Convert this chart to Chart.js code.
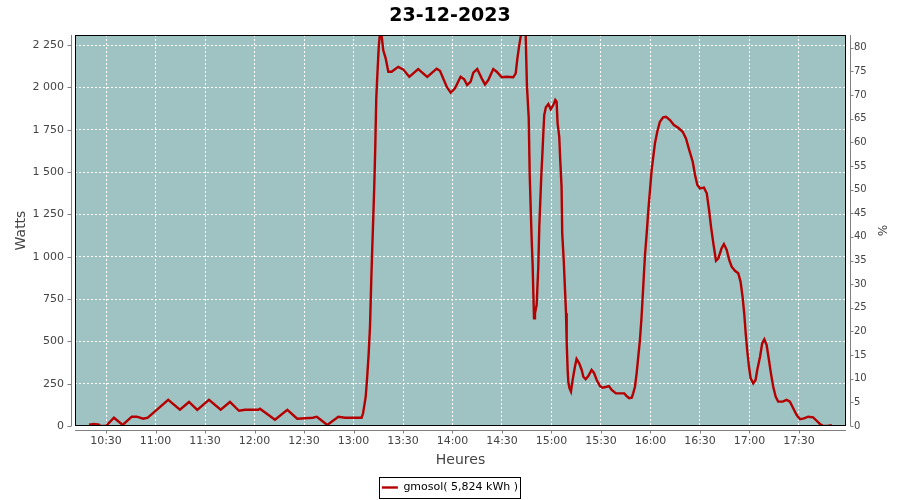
<!DOCTYPE html>
<html>
<head>
<meta charset="utf-8">
<script src="https://cdn.jsdelivr.net/npm/chart.js@4"></script>
<style>
  html, body { margin: 0; padding: 0; background: #fff; }
  #wrap { width: 900px; height: 500px; }
</style>
</head>
<body>
<div id="wrap"><canvas id="chart" width="900" height="500"></canvas></div>
<script>
/* 23-12-2023 solar production (gmosol) */

// time of day, in minutes since midnight
const times = [
  619.7, 622.7, 625.7, 626.4, 630.0, 634.8, 640.1, 645.6, 648.6, 652.6, 655.3, 667.7,
  674.8, 680.3, 685.3, 692.4, 699.5, 705.1, 710.6, 714.2, 722.3, 723.3, 732.4, 739.9,
  745.9, 755.4, 757.7, 759.7, 764.1, 770.8, 774.8, 784.9, 785.8, 787.4, 788.3, 789.2,
  790.0, 790.8, 791.4, 792.0, 792.6, 793.2, 793.8, 794.4, 795.3, 796.2, 796.9, 798.0,
  799.5, 801.1, 803.1, 807.1, 810.1, 813.8, 819.2, 824.7, 830.4, 832.4, 836.5, 838.9,
  841.5, 844.9, 847.1, 848.9, 851.0, 852.6, 855.0, 857.7, 859.7, 861.7, 864.7, 866.8,
  869.8, 872.8, 876.8, 878.3, 879.2, 880.3, 881.3, 882.7, 884.3, 885.1, 886.2, 886.8,
  887.4, 888.0, 888.6, 889.0, 889.4, 890.0, 891.0, 892.0, 892.6, 893.2, 893.8, 894.4,
  895.0, 895.6, 896.6, 898.1, 899.5, 901.1, 902.3, 903.1, 903.7, 904.7, 905.3, 906.1,
  906.5, 907.4, 908.2, 908.8, 909.2, 909.8, 910.2, 910.9, 911.8, 912.8, 914.2, 915.2,
  916.8, 918.3, 919.3, 920.7, 922.3, 924.3, 925.7, 927.4, 929.4, 931.0, 933.4, 934.8,
  936.5, 939.1, 944.1, 945.5, 947.1, 948.6, 949.5, 950.6, 951.6, 952.6, 953.6, 954.6,
  955.6, 956.6, 957.7, 958.7, 959.7, 960.7, 961.7, 962.7, 964.1, 965.7, 967.7, 969.4,
  971.8, 974.2, 976.8, 979.5, 981.5, 983.5, 985.6, 987.0, 988.4, 990.0, 992.4, 994.1,
  995.5, 996.7, 998.1, 999.7, 1001.1, 1003.1, 1004.5, 1006.2, 1007.7, 1009.2, 1011.2, 1013.2,
  1014.6, 1015.8, 1016.8, 1017.7, 1018.6, 1019.7, 1020.7, 1022.3, 1023.7, 1024.7, 1026.4, 1027.7,
  1029.0, 1030.4, 1031.8, 1033.0, 1034.4, 1035.9, 1037.4, 1040.1, 1042.5, 1044.5, 1046.5, 1048.6,
  1050.6, 1053.0, 1055.6, 1058.6, 1060.7, 1062.7, 1064.7, 1067.6, 1068.8, 1070.0
];

const watts = [
  8, 12, 8, 0, 0, 49, 6, 55, 55, 43, 49, 154,
  96, 142, 95, 155, 96, 142, 90, 96, 96, 102, 37, 95,
  43, 49, 55, 40, 6, 55, 49, 49, 75, 173, 291, 429,
  587, 872, 1059, 1236, 1424, 1650, 1936, 2063, 2240, 2340, 2320, 2221,
  2172, 2093, 2093, 2122, 2107, 2063, 2109, 2063, 2111, 2099, 2004, 1969,
  1995, 2063, 2048, 2014, 2034, 2087, 2109, 2054, 2018, 2044, 2109, 2093,
  2060, 2063, 2060, 2083, 2162, 2240, 2300, 2390, 2330, 2014, 1818, 1483,
  1286, 1099, 941, 784, 636, 666, 715, 941, 1177, 1325, 1473, 1591,
  1719, 1837, 1883, 1902, 1871, 1896, 1926, 1916, 1788, 1709, 1571, 1414,
  1138, 981, 803, 666, 498, 331, 260, 223, 203, 272, 350, 396,
  370, 331, 291, 276, 295, 331, 315, 272, 236, 226, 232, 236,
  213, 193, 193, 177, 164, 167, 193, 232, 311, 410, 508, 646,
  823, 1000, 1138, 1276, 1394, 1512, 1591, 1670, 1738, 1798, 1824, 1827,
  1808, 1778, 1762, 1738, 1699, 1630, 1561, 1483, 1424, 1404, 1408, 1375,
  1276, 1177, 1079, 977, 991, 1050, 1075, 1040, 981, 941, 917, 902,
  852, 764, 666, 548, 449, 350, 282, 252, 272, 331, 409, 488,
  512, 478, 390, 311, 232, 173, 144, 144, 154, 144, 105, 65,
  40, 45, 55, 51, 31, 12, 0, 0, 3, 3
];

const xTickLabels = ["10:30", "11:00", "11:30", "12:00", "12:30", "13:00", "13:30",
  "14:00", "14:30", "15:00", "15:30", "16:00", "16:30", "17:00", "17:30"];
const wattTicks = [0, 250, 500, 750, 1000, 1250, 1500, 1750, 2000, 2250];
const pctTicks = [0, 5, 10, 15, 20, 25, 30, 35, 40, 45, 50, 55, 60, 65, 70, 75, 80];

const FONT = "'DejaVu Sans', sans-serif";
const TXT = "#444444";
const AXIS = "#808080";
const PLOT_BG = "#9fc3c3";
const RED = "#b40000";

const toMin = (s) => { const [h, m] = s.split(":").map(Number); return h * 60 + m; };
const fmtMin = (v) => `${Math.floor(v / 60)}:${String(Math.round(v % 60)).padStart(2, "0")}`;
const fmtThousands = (v) => String(v).replace(/\B(?=(\d{3})+(?!\d))/g, " ");

// plot background, black frame, offset axis lines with their tick marks
const frame = {
  id: "frame",
  beforeDraw(c) {
    const { ctx, chartArea: a } = c;
    ctx.save();
    ctx.fillStyle = PLOT_BG;
    ctx.fillRect(a.left, a.top, a.width, a.height);
    ctx.restore();
  },
  afterDraw(c) {
    const { ctx, chartArea: a, scales } = c;
    ctx.save();
    ctx.lineWidth = 1;
    ctx.strokeStyle = "#000";
    ctx.strokeRect(a.left + 0.5, a.top + 0.5, a.width - 1, a.height - 1);

    ctx.strokeStyle = AXIS;
    ctx.beginPath();
    const lx = a.left - 3.5, rx = a.right + 4.5, by = a.bottom + 4.5;
    ctx.moveTo(lx, a.top); ctx.lineTo(lx, a.bottom);
    for (const t of scales.y.ticks) {
      const y = Math.round(scales.y.getPixelForValue(t.value)) + 0.5;
      ctx.moveTo(lx - 4, y); ctx.lineTo(lx, y);
    }
    ctx.moveTo(rx, a.top); ctx.lineTo(rx, a.bottom);
    for (const t of scales.y1.ticks) {
      const y = Math.round(scales.y1.getPixelForValue(t.value)) + 0.5;
      ctx.moveTo(rx, y); ctx.lineTo(rx + 3, y);
    }
    ctx.moveTo(a.left, by); ctx.lineTo(a.right, by);
    for (const t of scales.x.ticks) {
      const x = Math.round(scales.x.getPixelForValue(t.value)) + 0.5;
      ctx.moveTo(x, by); ctx.lineTo(x, by + 3);
    }
    ctx.stroke();

    // box round the legend
    const hb = c.legend.legendHitBoxes[0];
    if (hb) {
      ctx.strokeStyle = "#000";
      ctx.strokeRect(Math.round(hb.left) - 2.5, Math.round(hb.top) - 4.5, Math.round(hb.width) + 5, 21);
    }
    ctx.restore();
  },
};

const dashGrid = { color: "#ffffff", lineWidth: 1, drawTicks: false };
const noBorder = { display: false, dash: [2, 2] };

new Chart(document.getElementById("chart"), {
  type: "line",
  data: {
    datasets: [{
      label: "gmosol( 5,824 kWh )",
      data: times.map((t, i) => ({ x: t, y: watts[i] })),
      borderColor: RED,
      backgroundColor: RED,
      borderWidth: 2.4,
      pointRadius: 0,
      pointStyle: "line",
      tension: 0,
      fill: false,
      clip: 0,
      yAxisID: "y",
    }],
  },
  options: {
    responsive: false,
    animation: false,
    layout: { padding: 0 },
    plugins: {
      title: {
        display: true,
        text: "23-12-2023",
        color: "#000",
        font: { family: FONT, size: 19, weight: "bold" },
        padding: { top: 4.5, bottom: 7.7 },
      },
      legend: {
        position: "bottom",
        maxHeight: 26,
        labels: {
          color: "#000",
          font: { family: FONT, size: 11 },
          usePointStyle: true,
          pointStyleWidth: 16,
          padding: 8,
        },
      },
      tooltip: { enabled: false },
    },
    scales: {
      x: {
        type: "linear",
        min: 611.2,
        max: 1078.5,
        afterBuildTicks: (s) => { s.ticks = xTickLabels.map((l) => ({ value: toMin(l) })); },
        afterFit: (s) => { s.height = 48; },
        ticks: { color: TXT, font: { family: FONT, size: 11 }, padding: 9, maxRotation: 0, callback: (v) => fmtMin(v) },
        grid: dashGrid,
        border: noBorder,
        title: { display: true, text: "Heures", color: TXT, font: { family: FONT, size: 14 }, padding: { top: 0, bottom: 5.6 } },
      },
      y: {
        position: "left",
        min: 0,
        max: 2310,
        afterBuildTicks: (s) => { s.ticks = wattTicks.map((v) => ({ value: v })); },
        afterFit: (s) => { s.width = 75; },
        ticks: { color: TXT, font: { family: FONT, size: 11 }, padding: 11, callback: (v) => fmtThousands(v) },
        grid: dashGrid,
        border: noBorder,
        title: { display: true, text: "Watts", color: TXT, font: { family: FONT, size: 14 }, padding: { top: 12.6, bottom: 0 } },
      },
      y1: {
        position: "right",
        min: 0,
        max: 82.7,
        afterBuildTicks: (s) => { s.ticks = pctTicks.map((v) => ({ value: v })); },
        afterFit: (s) => { s.width = 54; },
        ticks: { color: TXT, font: { family: FONT, size: 10 }, padding: 8 },
        grid: { display: false, drawTicks: false },
        border: { display: false },
        title: { display: true, text: "%", color: TXT, font: { family: FONT, size: 12 }, padding: { top: 11.8, bottom: 0 } },
      },
    },
  },
  plugins: [frame],
});
</script>
</body>
</html>
